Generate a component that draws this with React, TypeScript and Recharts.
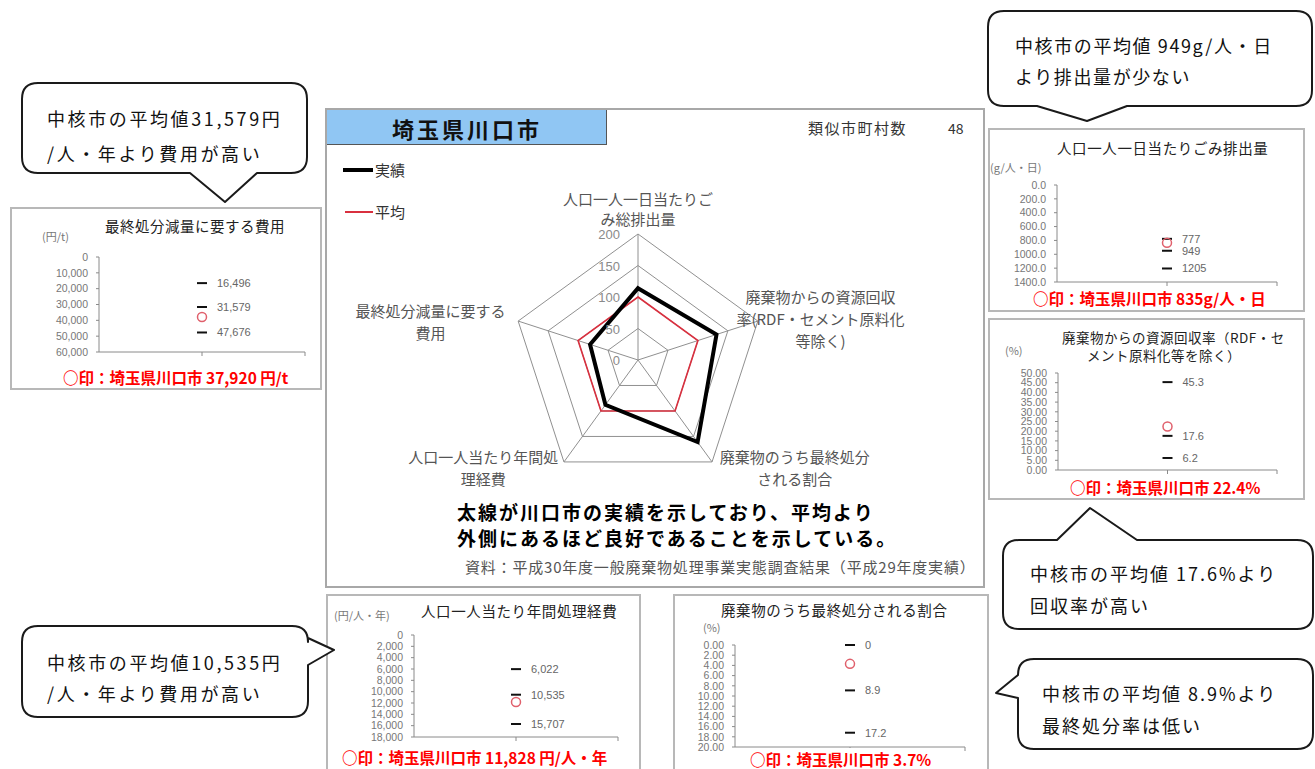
import React from 'react';
import {
  RadarChart,
  PolarGrid,
  PolarAngleAxis,
  PolarRadiusAxis,
  Radar,
  ScatterChart,
  Scatter,
  XAxis,
  YAxis,
} from 'recharts';

const FONT = '"Noto Sans CJK JP", "Noto Sans", sans-serif';
const NUMFONT = '"Liberation Sans", "Noto Sans CJK JP", sans-serif';

// ---------------- Radar data ----------------
const radarCategories = [
  '人口一人一日当たりごみ総排出量',
  '廃棄物からの資源回収率(RDF・セメント原料化等除く)',
  '廃棄物のうち最終処分される割合',
  '人口一人当たり年間処理経費',
  '最終処分減量に要する費用',
];
const radarCategoryLines = [
  ['人口一人一日当たりご', 'み総排出量'],
  ['廃棄物からの資源回収', '率(RDF・セメント原料化', '等除く)'],
  ['廃棄物のうち最終処分', 'される割合'],
  ['人口一人当たり年間処', '理経費'],
  ['最終処分減量に要する', '費用'],
];
const actualValues = [114, 131, 161, 88, 80];
const averageValues = [100, 100, 100, 100, 100];
const radarTicks = [0, 50, 100, 150, 200];
const seriesNames = ['実績', '平均'];

// ---------------- Mini panel data ----------------
const costTicks = [0, 10000, 20000, 30000, 40000, 50000, 60000];
const costTickLabels = ['0', '10,000', '20,000', '30,000', '40,000', '50,000', '60,000'];
const costStats = [16496, 31579, 47676];
const costStatLabels = ['16,496', '31,579', '47,676'];
const costCity = 37920;

const wasteTicks = [0, 200, 400, 600, 800, 1000, 1200, 1400];
const wasteTickLabels = ['0.0', '200.0', '400.0', '600.0', '800.0', '1000.0', '1200.0', '1400.0'];
const wasteStats = [777, 949, 1205];
const wasteStatLabels = ['777', '949', '1205'];
const wasteCity = 835;

const recoveryTicks = [0, 5, 10, 15, 20, 25, 30, 35, 40, 45, 50];
const recoveryTickLabels = ['0.00', '5.00', '10.00', '15.00', '20.00', '25.00', '30.00', '35.00', '40.00', '45.00', '50.00'];
const recoveryStats = [45.3, 17.6, 6.2];
const recoveryStatLabels = ['45.3', '17.6', '6.2'];
const recoveryCity = 22.4;

const annualTicks = [0, 2000, 4000, 6000, 8000, 10000, 12000, 14000, 16000, 18000];
const annualTickLabels = ['0', '2,000', '4,000', '6,000', '8,000', '10,000', '12,000', '14,000', '16,000', '18,000'];
const annualStats = [6022, 10535, 15707];
const annualStatLabels = ['6,022', '10,535', '15,707'];
const annualCity = 11828;

const landfillTicks = [0, 2, 4, 6, 8, 10, 12, 14, 16, 18, 20];
const landfillTickLabels = ['0.00', '2.00', '4.00', '6.00', '8.00', '10.00', '12.00', '14.00', '16.00', '18.00', '20.00'];
const landfillStats = [0, 8.9, 17.2];
const landfillStatLabels = ['0', '8.9', '17.2'];
const landfillCity = 3.7;

const radarData = radarCategories.map((c, i) => ({
  axis: c,
  actual: actualValues[i],
  average: averageValues[i],
}));

// label layout offsets (styling) for each radar axis label
const angleLabelLayout = [
  { dx: 0, dys: [-21, -1] },
  { dx: 55, dys: [-16, 6, 28] },
  { dx: 78, dys: [-5, 17] },
  { dx: -76, dys: [-5, 17] },
  { dx: -80, dys: [-2, 20] },
];

const AngleTick = (props: any) => {
  const { x, y, index } = props;
  const lay = angleLabelLayout[index];
  const lines = radarCategoryLines[index];
  return (
    <g>
      {lines.map((ln: string, i: number) => (
        <text
          key={i}
          x={x + lay.dx}
          y={y + lay.dys[i]}
          textAnchor="middle"
          fontSize={15}
          fill="#555"
          fontFamily={FONT}
        >
          {ln}
        </text>
      ))}
    </g>
  );
};

const RadiusTick = (props: any) => {
  const { x, y, payload } = props;
  return (
    <text x={x - 18} y={y + 5} textAnchor="end" fontSize={13} fill="#8a8a8a" fontFamily={NUMFONT}>
      {payload.value}
    </text>
  );
};

const Dash = (props: any) => {
  const { cx, cy, payload } = props;
  return (
    <g>
      <line x1={cx - 5} x2={cx + 5} y1={cy} y2={cy} stroke="#111" strokeWidth={2} />
      <text x={cx + 15} y={cy + 4} fontSize={11} fill="#666" fontFamily={NUMFONT}>
        {payload.label}
      </text>
    </g>
  );
};

const CityMark = (props: any) => (
  <circle cx={props.cx} cy={props.cy} r={4.5} fill="none" stroke="#e0606c" strokeWidth={1.5} />
);

function MiniChart(p: any) {
  const { left, top, width, height, plot, ticks, tickLabels, stats, statLabels, city, reversed } = p;
  const statData = stats.map((v: number, i: number) => ({ x: 1, y: v, label: statLabels[i] }));
  const cityData = [{ x: 1, y: city }];
  const domain = [ticks[0], ticks[ticks.length - 1]];
  return (
    <div style={{ position: 'absolute', left, top, width, height }}>
      <ScatterChart
        width={width}
        height={height}
        margin={{ top: plot.t, right: plot.r, bottom: plot.b - 10, left: 0 }}
      >
        <XAxis
          type="number"
          dataKey="x"
          domain={[0, 2]}
          ticks={[1, 2]}
          height={10}
          tickSize={4}
          tickFormatter={() => ''}
          axisLine={{ stroke: '#8a8a8a' }}
          tickLine={{ stroke: '#8a8a8a' }}
        />
        <YAxis
          type="number"
          dataKey="y"
          domain={domain}
          ticks={ticks}
          interval={0}
          reversed={reversed}
          width={plot.l}
          tickSize={3}
          tickMargin={8}
          tickFormatter={(v: number) => tickLabels[ticks.indexOf(v)]}
          tick={{ fontSize: 10.5, fill: '#777', fontFamily: NUMFONT }}
          axisLine={{ stroke: '#8a8a8a' }}
          tickLine={{ stroke: '#8a8a8a' }}
        />
        <Scatter data={statData} shape={Dash} isAnimationActive={false} />
        <Scatter data={cityData} shape={CityMark} isAnimationActive={false} />
      </ScatterChart>
    </div>
  );
}

function bubblePath(x: number, y: number, w: number, h: number, r: number, side: string, t1: number, t2: number, tx: number, ty: number) {
  const R = x + w;
  const B = y + h;
  let d = `M${x + r},${y}`;
  if (side === 'top') d += ` L${t1},${y} L${tx},${ty} L${t2},${y}`;
  d += ` L${R - r},${y} Q${R},${y} ${R},${y + r}`;
  if (side === 'right') d += ` L${R},${t1} L${tx},${ty} L${R},${t2}`;
  d += ` L${R},${B - r} Q${R},${B} ${R - r},${B}`;
  if (side === 'bottom') d += ` L${t2},${B} L${tx},${ty} L${t1},${B}`;
  d += ` L${x + r},${B} Q${x},${B} ${x},${B - r}`;
  if (side === 'left') d += ` L${x},${t2} L${tx},${ty} L${x},${t1}`;
  d += ` L${x},${y + r} Q${x},${y} ${x + r},${y} Z`;
  return d;
}

const callouts = [
  { x: 22, y: 83, w: 285, h: 90, side: 'bottom', t1: 190, t2: 257, tx: 225, ty: 202, tl: 47, sp: 2.6, lines: ['中核市の平均値31,579円', '/人・年より費用が高い'], ly: [118, 153] },
  { x: 988, y: 11, w: 324, h: 95, side: 'bottom', t1: 1037, t2: 1127, tx: 1087, ty: 121, tl: 1015, sp: 1.6, lines: ['中核市の平均値 949g/人・日', 'より排出量が少ない'], ly: [45, 76] },
  { x: 1003, y: 540, w: 310, h: 89, side: 'top', t1: 1057, t2: 1137, tx: 1090, ty: 508, tl: 1030, sp: 2, lines: ['中核市の平均値 17.6%より', '回収率が高い'], ly: [573, 605] },
  { x: 22, y: 626, w: 286, h: 91, side: 'right', t1: 638, t2: 665, tx: 334, ty: 650, tl: 47, sp: 2.6, lines: ['中核市の平均値10,535円', '/人・年より費用が高い'], ly: [662, 693] },
  { x: 1018, y: 659, w: 295, h: 90, side: 'left', t1: 675, t2: 698, tx: 996, ty: 693, tl: 1042, sp: 2, lines: ['中核市の平均値 8.9%より', '最終処分率は低い'], ly: [693, 725] },
];

const abs = (left: number, top: number, extra: any = {}) => ({ position: 'absolute' as const, left, top, ...extra });

const panelBorder = '2px solid #b8b8b8';

function Text({ x, cy, children, size = 15, bold = false, color = '#222', spacing = 0, w, align = 'left', bg }: any) {
  const h = Math.round(size * 1.2);
  return (
    <div
      style={{
        position: 'absolute',
        left: x,
        top: cy - h / 2,
        height: h,
        lineHeight: `${h}px`,
        fontSize: size,
        fontWeight: bold ? 700 : 400,
        color,
        letterSpacing: spacing,
        whiteSpace: 'nowrap',
        width: w,
        textAlign: align,
        background: bg,
        fontFamily: FONT,
      }}
    >
      {children}
    </div>
  );
}

export default function App() {
  return (
    <div
      style={{
        position: 'absolute',
        left: 0,
        top: 0,
        width: 1315,
        height: 769,
        overflow: 'hidden',
        background: '#fff',
        fontFamily: FONT,
      }}
    >
      {/* ---------- Main panel ---------- */}
      <div style={abs(325, 108, { width: 660, height: 480, border: '2px solid #a8a8a8', boxSizing: 'border-box' })} />
      <div
        style={abs(327, 110, {
          width: 280,
          height: 35,
          background: '#90c6f3',
          borderRight: '1px solid #555',
          borderBottom: '1px solid #555',
          boxSizing: 'border-box',
        })}
      />
      <Text x={327} cy={128} w={280} align="center" size={22} bold spacing={3} color="#111">
        埼玉県川口市
      </Text>
      <Text x={808} cy={128} size={15} spacing={1.5} color="#333">
        類似市町村数
      </Text>
      <Text x={948} cy={128} size={14} color="#333">
        48
      </Text>

      {/* legend */}
      <div style={abs(343, 168, { width: 30, height: 4, background: '#000' })} />
      <Text x={375} cy={170} size={15} color="#333">
        {seriesNames[0]}
      </Text>
      <div style={abs(345, 211, { width: 28, height: 2, background: '#d9303f' })} />
      <Text x={375} cy={212} size={15} color="#333">
        {seriesNames[1]}
      </Text>

      <div style={abs(325, 108, { width: 660, height: 480 })}>
        <RadarChart
          width={660}
          height={480}
          cx={313}
          cy={252}
          outerRadius={126}
          data={radarData}
          startAngle={90}
          endAngle={-270}
        >
          <PolarGrid gridType="polygon" stroke="#909090" strokeWidth={1} />
          <PolarAngleAxis dataKey="axis" tick={AngleTick} tickLine={false} axisLine={false} />
          <PolarRadiusAxis
            angle={90}
            domain={[0, 200]}
            ticks={radarTicks as any}
            tickCount={5}
            tick={RadiusTick}
            axisLine={false}
            tickLine={false}
          />
          <Radar
            name={seriesNames[1]}
            dataKey="average"
            stroke="#d9303f"
            strokeWidth={1.6}
            fill="none"
            fillOpacity={0}
            dot={false}
            isAnimationActive={false}
          />
          <Radar
            name={seriesNames[0]}
            dataKey="actual"
            stroke="#000"
            strokeWidth={4}
            fill="none"
            fillOpacity={0}
            dot={false}
            isAnimationActive={false}
          />
        </RadarChart>
      </div>

      <Text x={457} cy={511} size={19} bold spacing={2} color="#000">
        太線が川口市の実績を示しており、平均より
      </Text>
      <Text x={457} cy={537} size={19} bold spacing={2} color="#000">
        外側にあるほど良好であることを示している。
      </Text>
      <Text x={465} cy={567} size={15} spacing={0.8} color="#555">
        資料：平成30年度一般廃棄物処理事業実態調査結果（平成29年度実績）
      </Text>

      {/* ---------- Panel A: 最終処分減量に要する費用 ---------- */}
      <div style={abs(10, 207, { width: 312, height: 183, border: panelBorder, boxSizing: 'border-box' })} />
      <MiniChart
        left={10}
        top={207}
        width={312}
        height={183}
        plot={{ l: 89, r: 17, t: 50, b: 38 }}
        ticks={costTicks}
        tickLabels={costTickLabels}
        stats={costStats}
        statLabels={costStatLabels}
        city={costCity}
        reversed
      />
      <Text x={10} cy={225} w={370} align="center" size={14.5} spacing={0.5}>
        最終処分減量に要する費用
      </Text>
      <Text x={42} cy={236} size={11} color="#777">
        (円/t)
      </Text>
      <Text x={63} cy={377} size={15.5} bold color="#ff0000">
        ○印：埼玉県川口市 37,920 円/t
      </Text>

      {/* ---------- Panel B: 人口一人一日当たりごみ排出量 ---------- */}
      <div style={abs(988, 128, { width: 317, height: 184, border: panelBorder, boxSizing: 'border-box' })} />
      <MiniChart
        left={988}
        top={128}
        width={317}
        height={184}
        plot={{ l: 69, r: 28, t: 57, b: 30 }}
        ticks={wasteTicks}
        tickLabels={wasteTickLabels}
        stats={wasteStats}
        statLabels={wasteStatLabels}
        city={wasteCity}
        reversed
      />
      <Text x={1057} cy={147} size={14.5} spacing={0.6}>
        人口一人一日当たりごみ排出量
      </Text>
      <Text x={990} cy={167} size={11} color="#777">
        (g/人・日)
      </Text>
      <Text x={1033} cy={298} size={15.5} bold color="#ff0000" bg="#fff">
        ○印：埼玉県川口市 835g/人・日
      </Text>

      {/* ---------- Panel C: 資源回収率 ---------- */}
      <div style={abs(988, 318, { width: 317, height: 182, border: panelBorder, boxSizing: 'border-box' })} />
      <MiniChart
        left={988}
        top={318}
        width={317}
        height={182}
        plot={{ l: 70, r: 28, t: 55, b: 30 }}
        ticks={recoveryTicks}
        tickLabels={recoveryTickLabels}
        stats={recoveryStats}
        statLabels={recoveryStatLabels}
        city={recoveryCity}
        reversed={false}
      />
      <Text x={1062} cy={337} size={13.5} spacing={0.5}>
        廃棄物からの資源回収率（RDF・セ
      </Text>
      <Text x={1087} cy={355} size={13.5} spacing={0.5}>
        メント原料化等を除く）
      </Text>
      <Text x={1005} cy={350} size={11} color="#777">
        (%)
      </Text>
      <Text x={1070} cy={487} size={15.5} bold color="#ff0000">
        ○印：埼玉県川口市 22.4%
      </Text>

      {/* ---------- Panel D: 人口一人当たり年間処理経費 ---------- */}
      <div style={abs(326, 594, { width: 315, height: 182, border: panelBorder, boxSizing: 'border-box' })} />
      <MiniChart
        left={326}
        top={594}
        width={315}
        height={180}
        plot={{ l: 88, r: 23, t: 41, b: 37 }}
        ticks={annualTicks}
        tickLabels={annualTickLabels}
        stats={annualStats}
        statLabels={annualStatLabels}
        city={annualCity}
        reversed
      />
      <Text x={421} cy={610} size={14.5} spacing={0.6}>
        人口一人当たり年間処理経費
      </Text>
      <Text x={334} cy={615} size={11} color="#777">
        (円/人・年)
      </Text>
      <Text x={342} cy={757} size={15.5} bold color="#ff0000">
        ○印：埼玉県川口市 11,828 円/人・年
      </Text>

      {/* ---------- Panel E: 最終処分される割合 ---------- */}
      <div style={abs(673, 594, { width: 316, height: 182, border: panelBorder, boxSizing: 'border-box' })} />
      <MiniChart
        left={673}
        top={594}
        width={316}
        height={180}
        plot={{ l: 62, r: 24, t: 51, b: 27 }}
        ticks={landfillTicks}
        tickLabels={landfillTickLabels}
        stats={landfillStats}
        statLabels={landfillStatLabels}
        city={landfillCity}
        reversed
      />
      <Text x={721} cy={609} size={14.5} spacing={0.6}>
        廃棄物のうち最終処分される割合
      </Text>
      <Text x={703} cy={627} size={11} color="#777">
        (%)
      </Text>
      <div style={abs(736, 748, { width: 216, height: 21, background: '#fff' })} />
      <Text x={750} cy={759} size={15.5} bold color="#ff0000">
        ○印：埼玉県川口市 3.7%
      </Text>

      {/* ---------- Callouts ---------- */}
      <svg width={1315} height={769} style={{ position: 'absolute', left: 0, top: 0, pointerEvents: 'none' }}>
        {callouts.map((c, i) => (
          <path
            key={i}
            d={bubblePath(c.x, c.y, c.w, c.h, 16, c.side, c.t1, c.t2, c.tx, c.ty)}
            fill="#fff"
            stroke="#1a1a1a"
            strokeWidth={2}
            strokeLinejoin="round"
          />
        ))}
      </svg>
      {callouts.map((c, i) =>
        c.lines.map((ln, j) => (
          <Text key={`${i}-${j}`} x={c.tl} cy={c.ly[j]} size={18} spacing={c.sp} color="#111">
            {ln}
          </Text>
        ))
      )}
    </div>
  );
}
